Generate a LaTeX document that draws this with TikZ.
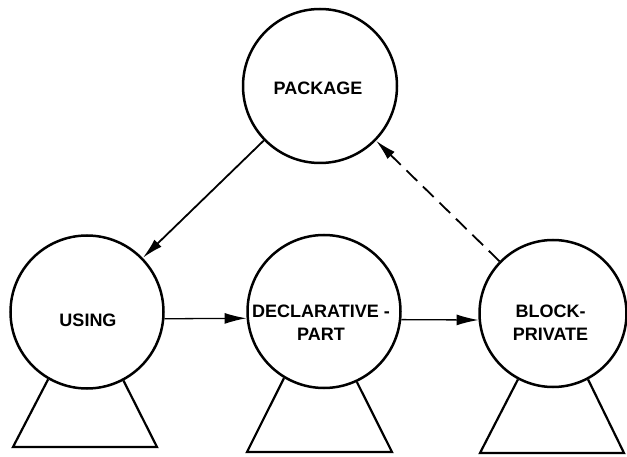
\documentclass[tikz,border=0pt]{standalone}
\usepackage{fontspec}
\setmainfont{Liberation Sans}
\usetikzlibrary{arrows.meta}
\begin{document}
\begin{tikzpicture}[x=1pt,y=-1pt,
  unit/.style={circle,draw,line width=2.5pt,inner sep=0pt,minimum size=#1},
  stand/.style={draw,line width=2.2pt,line join=miter},
  label/.style={font=\fontsize{18}{23}\selectfont\bfseries,align=center,inner sep=0pt},
  link/.style={line width=1.8pt,-{Latex[length=21pt,width=10pt]}},
  flat/.style={line width=1.3pt,-{Latex[length=22pt,width=11pt]}},
  back/.style={link,dash pattern=on 15pt off 8pt}]
  \useasboundingbox (0,0) rectangle (627,457);

  % the four units
  \node[unit=154pt] (pkg)   at (320,86)  {};
  \node[unit=153pt] (using) at (87,312)  {};
  \node[unit=153pt] (decl)  at (324,311.5) {};
  \node[unit=147pt] (block) at (553,313.5) {};

  % their names
  \node[label] (tpkg)   at (318,88.5)  {PACKAGE};
  \node[label] (tusing) at (88,320)    {USING};
  \node[label] (tdecl)  at (321,322.5) {DECLARATIVE -\\PART};
  \node[label] (tblock) at (550.5,323) {BLOCK-\\PRIVATE};

  % stands under each unit
  \draw[stand] (using.240) -- (13,447) -- (157,447) -- (using.298);
  \draw[stand] (decl.239)  -- (247,452) -- (392,452) -- (decl.295);
  \draw[stand] (block.242) -- (480,453) -- (624,453) -- (block.298);

  % connections
  \draw[link] (pkg) -- (using);
  \draw[flat] (using.-5) -- (decl.185);
  \draw[flat] (decl.-6) -- (block.185);
  \draw[back] (block) -- (pkg);
\end{tikzpicture}
\end{document}
